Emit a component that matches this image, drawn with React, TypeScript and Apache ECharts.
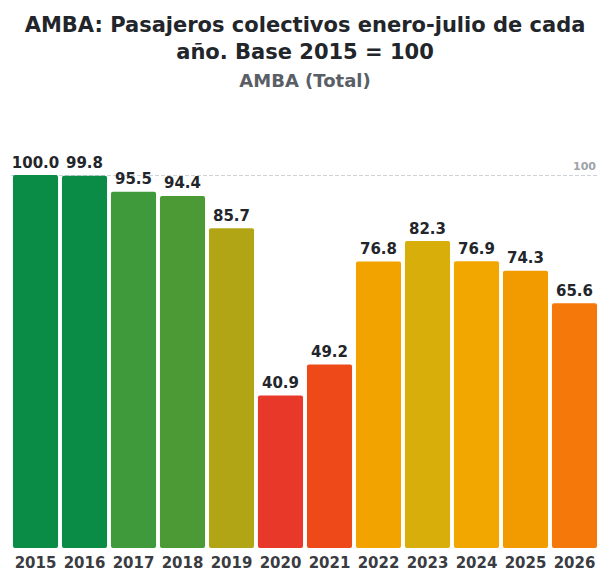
import React, { useEffect, useRef } from "react";
import * as echarts from "echarts";

const years = ["2015", "2016", "2017", "2018", "2019", "2020", "2021", "2022", "2023", "2024", "2025", "2026"];
const values = [100.0, 99.8, 95.5, 94.4, 85.7, 40.9, 49.2, 76.8, 82.3, 76.9, 74.3, 65.6];
const colors = ["#0a8c46", "#0a8c46", "#3f9a3b", "#4c9a35", "#b1a516", "#e8382a", "#ee4a19", "#f2a300", "#d8ae0b", "#f2a600", "#f29b00", "#f5780a"];
const baseValue = 100;

const FONT = "DejaVu Sans";

export default function App() {
  const ref = useRef<HTMLDivElement>(null);
  useEffect(() => {
    const chart = echarts.init(ref.current!, null, { renderer: "svg" });
    chart.setOption({
      animation: false,
      backgroundColor: "#ffffff",
      title: [
        {
          text: "AMBA: Pasajeros colectivos enero-julio de cada\naño. Base 2015 = 100",
          left: "center",
          top: 6,
          textStyle: { fontFamily: FONT, fontWeight: "bold", fontSize: 21, color: "#22252a", lineHeight: 27 },
        },
        {
          text: "AMBA (Total)",
          left: "center",
          top: 66,
          textStyle: { fontFamily: FONT, fontWeight: "bold", fontSize: 18, color: "#5a5e66" },
        },
      ],
      grid: { left: 11, right: 11, top: 175, bottom: 27, containLabel: false },
      xAxis: {
        type: "category",
        data: years,
        axisLine: { show: false },
        axisTick: { show: false },
        axisLabel: { interval: 0, fontFamily: FONT, fontWeight: "bold", fontSize: 15, color: "#3a3c42", margin: 7 },
      },
      yAxis: {
        type: "value",
        min: 0,
        max: 100,
        show: false,
        splitLine: { show: false },
      },
      series: [
        {
          type: "bar",
          barCategoryGap: "8%",
          data: values.map((v, i) => ({ value: v, itemStyle: { color: colors[i] } })),
          itemStyle: { borderRadius: 2 },
          label: {
            show: true,
            position: "top",
            distance: 5,
            formatter: (p: any) => p.value.toFixed(1),
            fontFamily: FONT,
            fontWeight: "bold",
            fontSize: 15,
            color: "#22252a",
          },
          markLine: {
            silent: true,
            symbol: "none",
            lineStyle: { type: "dashed", color: "#cfd2d6", width: 1 },
            label: {
              position: "insideEndTop",
              formatter: "100",
              fontFamily: FONT,
              fontWeight: "bold",
              fontSize: 11,
              color: "#a0a3a8",
              distance: 3,
            },
            data: [{ yAxis: baseValue }],
            z: 1,
          },
        },
      ],
    });
    return () => chart.dispose();
  }, []);
  return <div ref={ref} style={{ position: "fixed", left: 0, top: 0, width: 610, height: 575 }} />;
}
